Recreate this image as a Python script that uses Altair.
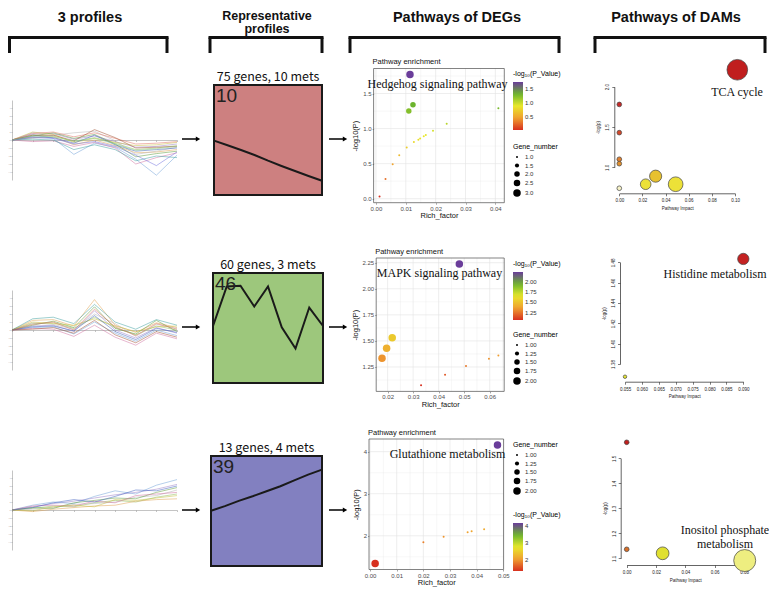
import altair as alt
import pandas as pd

# ---------------------------------------------------------------- data
HEADERS = ["3 profiles", "Representative\nprofiles", "Pathways of DEGs", "Pathways of DAMs"]

TIME = [0, 1, 2, 3, 4, 5, 6, 7, 8]

# thumbnails of all genes of each profile (expression, log ratio)
PROFILE_LINES = [
    [
        [0, 0.6, 0.5, -0.2, 0.3, -0.4, -1.2, -1.0, -0.7],
        [0, 0.9, 0.8, 0.1, 0.5, -0.2, -0.9, -0.8, -0.5],
        [0, 0.3, 0.4, -0.6, 0.0, -0.7, -1.6, -1.5, -1.2],
        [0, 0.7, 0.2, -1.8, -0.4, -0.9, -2.4, -4.4, -1.9],
        [0, 0.2, 0.6, 0.9, 1.1, -0.1, -1.8, -1.4, -0.9],
        [0, 0.5, 0.9, 0.2, 0.7, -0.5, -2.1, -1.7, -1.4],
        [0, -0.2, -0.1, -0.8, -0.3, -1.0, -3.0, -2.2, -1.6],
        [0, 1.0, 0.7, -0.3, 0.2, -0.3, -0.7, -0.6, -0.3],
        [0, 0.4, 0.3, -0.4, 0.6, -0.6, -1.4, -1.2, -1.0],
        [0, 0.8, 1.0, 0.4, 0.9, 0.2, -0.5, -0.4, -0.2],
        [0, 0.1, 0.0, -1.2, -0.6, -1.2, -2.6, -2.0, -2.2],
        [0, 0.6, 0.6, -0.1, 1.3, 0.3, -1.0, -0.9, -0.8],
        [0, 0.3, 0.2, -0.5, -0.2, -0.8, -1.9, -3.2, -1.5],
        [0, 0.5, 0.4, -0.1, 0.2, -0.5, -1.3, -1.1, -0.8],
    ],
    [
        [0, 0.8, 0.9, 0.2, 1.6, 0.3, -0.6, 0.5, 0.0],
        [0, 0.5, 0.6, -0.2, 2.4, 0.0, -1.0, 0.3, -0.4],
        [0, 1.2, 1.3, 0.5, 3.8, 0.6, -0.3, 0.9, 0.3],
        [0, 0.3, 0.4, -0.5, 1.0, -0.4, -1.4, 0.0, -0.7],
        [0, 0.9, 0.7, 0.1, 2.0, 0.8, -0.8, 0.7, 0.2],
        [0, 0.6, 1.1, 0.3, 2.9, 0.2, -0.5, 1.2, -0.2],
        [0, 0.2, 0.1, -0.8, 0.6, -0.9, -1.9, -0.4, -1.1],
        [0, 1.0, 0.8, 0.6, 1.4, 0.5, -0.2, 0.4, 0.5],
        [0, 0.4, 0.5, -0.1, 1.8, -0.2, -1.2, 0.2, -0.3],
        [0, 0.7, 1.0, 0.0, 2.6, 0.4, -0.7, 0.8, 0.1],
        [0, 1.4, 1.6, 0.8, 3.2, 1.0, 0.1, 1.3, 0.6],
        [0, 0.1, 0.3, -0.4, 1.2, -0.6, -1.6, -0.2, -0.9],
    ],
    [
        [0, 0.2, 0.5, 0.4, 0.9, 1.2, 1.0, 1.6, 2.0],
        [0, 0.4, 0.8, 1.1, 1.5, 1.9, 2.2, 2.6, 3.2],
        [0, -0.2, 0.1, 0.3, 0.5, 0.6, 1.1, 1.3, 1.4],
        [0, 0.6, 1.0, 0.8, 1.7, 2.4, 2.0, 3.1, 3.8],
        [0, 0.1, 0.3, 0.7, 0.8, 1.0, 1.6, 1.8, 2.5],
        [0, 0.3, 0.2, 0.9, 1.2, 1.5, 1.4, 2.2, 2.8],
        [0, 0.5, 0.6, 0.5, 1.1, 0.9, 1.8, 2.0, 2.2],
        [0, -0.1, 0.4, 0.6, 0.4, 1.3, 1.2, 1.5, 1.8],
        [0, 0.3, 0.9, 1.3, 1.0, 1.7, 2.5, 2.4, 3.0],
    ],
]

PROFILE_IDS = ["10", "46", "39"]
PROFILE_TITLES = ["75 genes, 10 mets", "60 genes, 3 mets", "13 genes, 4 mets"]
PROFILE_FILLS = ["#cd8080", "#9dc77c", "#8280c0"]
REP_PROFILE = [
    [49.4, 45.2, 40.9, 36.4, 31.2, 26.4, 21.8, 17.3, 13.0],
    [51.8, 87.8, 88.4, 69.5, 87.8, 50.6, 31.4, 68.6, 51.8],
    [50.2, 54.4, 59.2, 63.4, 68.0, 72.5, 77.9, 83.1, 87.6],
]

DEG_TITLE = "Pathway enrichment"
DEG_LABELS = ["Hedgehog signaling pathway", "MAPK signaling pathway", "Glutathione metabolism"]
DEG_X = [
    [0.0012, 0.0032, 0.0056, 0.0078, 0.0103, 0.0127, 0.0142, 0.0148, 0.0160, 0.0167,
     0.0191, 0.0237, 0.0410, 0.0110, 0.0124, 0.0114],
    [0.0178, 0.0196, 0.0218, 0.0331, 0.0425, 0.0507, 0.0597, 0.0634, 0.0481],
    [0.0019, 0.0200, 0.0276, 0.0366, 0.0381, 0.0428, 0.0478],
]
DEG_Y = [
    [0.03, 0.28, 0.49, 0.62, 0.73, 0.81, 0.84, 0.86, 0.89, 0.91,
     0.97, 1.07, 1.29, 1.25, 1.34, 1.77],
    [1.333, 1.429, 1.531, 1.074, 1.176, 1.260, 1.330, 1.359, 2.237],
    [1.34, 1.846, 1.977, 2.085, 2.108, 2.155, 4.16],
]
DEG_N = [
    [1, 1, 1, 1, 1, 1, 1, 1, 1, 1, 1, 1, 1, 2, 2, 3],
    [2, 2, 2, 1, 1, 1, 1, 1, 2],
    [2, 1, 1, 1, 1, 1, 2],
]
DEG_XTICKS = [[0.00, 0.01, 0.02, 0.03, 0.04], [0.02, 0.03, 0.04, 0.05, 0.06],
              [0.00, 0.01, 0.02, 0.03, 0.04, 0.05]]
DEG_YTICKS = [[0.0, 0.5, 1.0, 1.5], [1.25, 1.50, 1.75, 2.00, 2.25], [2, 3, 4]]
DEG_YFMT = [".1f", ".2f", "d"]
DEG_CTICKS = [[0.5, 1.0, 1.5], [1.25, 1.50, 1.75, 2.00], [2, 3, 4]]
DEG_CFMT = [".1f", ".2f", "d"]
DEG_NTICKS = [[1.0, 1.5, 2.0, 2.5, 3.0], [1.00, 1.25, 1.50, 1.75, 2.00], [1.00, 1.25, 1.50, 1.75, 2.00]]
DEG_NFMT = [".1f", ".2f", ".2f"]

DAM_LABELS = ["TCA cycle", "Histidine metabolism", "Inositol phosphate\nmetabolism"]
DAM_X = [
    [0, 0, 0, 0, 0, 0.0228, 0.0314, 0.0487, 0.102],
    [0.055, 0.090],
    [0, 0, 0.0245, 0.0805],
]
DAM_Y = [
    [1.78, 1.43, 1.10, 1.045, 0.74, 0.79, 0.89, 0.79, 2.21],
    [1.3675, 1.4833],
    [1.564, 1.136, 1.12, 1.091],
]
DAM_XTICKS = [[0.00, 0.02, 0.04, 0.06, 0.08, 0.10],
              [0.055, 0.060, 0.065, 0.070, 0.075, 0.080, 0.085, 0.090],
              [0.00, 0.02, 0.04, 0.06, 0.08]]
DAM_YTICKS = [[1.0, 1.5, 2.0], [1.38, 1.40, 1.42, 1.44, 1.46, 1.48], [1.1, 1.2, 1.3, 1.4, 1.5]]
DAM_XFMT = [".2f", ".3f", ".2f"]
DAM_YFMT = [".1f", ".2f", ".1f"]

# ---------------------------------------------------------------- layout
M = 8
W, H = 777 - 2 * M, 596 - 2 * M


def P(v):
    return v - M


ONE = pd.DataFrame({"k": [0]})
LINE_COLORS = ["#8fbc5a", "#9a7fc7", "#e0a050", "#6fa0d8", "#b5b5b5", "#5a9a3a", "#d070a0",
               "#c8c040", "#4060c0", "#e07060", "#40a0a0", "#a05030", "#7070e0", "#90d090"]
SANS = "Liberation Sans"
SERIF = "Liberation Serif"
CJK = "Noto Sans CJK SC"

ROW_ARROW_Y = [139, 327, 510]
C1 = [dict(x0=12, x1=177, top=100, bot=180), dict(x0=12, x1=177, top=290, bot=370),
      dict(x0=12, x1=177, top=470, bot=550)]
C2 = [dict(x0=214, x1=322, top=85, bot=195), dict(x0=213, x1=323, top=273, bot=383),
      dict(x0=211, x1=322, top=456, bot=566)]
C3 = [dict(x0=373.6, x1=504.3, top=68.5, bot=202.7, title=64, lab=(437.5, 88.3),
           legy=(70, 143)),
      dict(x0=376.2, x1=504.2, top=258, bot=391.4, title=254, lab=(439.5, 277.3),
           legy=(260, 331)),
      dict(x0=369.0, x1=503.6, top=439.0, bot=569.5, title=434.5, lab=(447.5, 458),
           legy=(511, 441))]
C4 = [dict(ax=614.3, ay=193.3, x0=619.3, x1=735.0, y0=167.3, y1=86.7, lab=(737, 96)),
      dict(ax=620.0, ay=381.7, x0=625.0, x1=743.3, y0=364.0, y1=262.3, lab=(715, 278.3)),
      dict(ax=620.7, ay=565.0, x0=626.7, x1=744.0, y0=558.3, y1=458.3, lab=(725, 534))]
DAM_COLOR = [
    ([0.74, 0.75, 0.9, 1.1, 1.45, 1.8, 2.21],
     ["#f7f3c8", "#eeee3c", "#e6be2e", "#e08030", "#d2452a", "#c42828", "#c01e1e"]),
    ([1.3675, 1.4833], ["#e8e830", "#c42222"]),
    ([1.091, 1.12, 1.136, 1.564], ["#eeee80", "#e0e030", "#d8702a", "#c0201e"]),
]
DAM_SIZE = [([0, 0.102], [22, 428]), ([0.055, 0.090], [12, 128]), ([0, 0.0805], [22, 484])]
DEG_COLORS = ["#d7301f", "#f0a030", "#e8e82a", "#6cb52d", "#6a3d9a"]

layers = []

# ---------------------------------------------------------------- headers & brackets
HEAD_POS = [(90, [22], 14.5), (267, [19.6, 33.4], 12.5), (457, [22], 14.5), (676, [22], 14.5)]
BRACKETS = [(9.5, 167), (210, 322), (350, 559), (595, 765)]
BRACKET_Y = 37.5
for txt, (cx, bys, fs) in zip(HEADERS, HEAD_POS):
    for part, by in zip(txt.split("\n"), bys):
        layers.append(alt.Chart(pd.DataFrame({"t": [part]})).mark_text(
            font=SANS, fontWeight="bold", fontSize=fs, align="center", baseline="alphabetic",
            color="#111").encode(x=alt.value(P(cx)), y=alt.value(P(by)), text="t:N"))
for x0, x1 in BRACKETS:
    b = alt.Chart(ONE)
    layers.append(b.mark_rule(color="#111", strokeWidth=3, strokeCap="square").encode(
        x=alt.value(P(x0)), x2=alt.value(P(x1)), y=alt.value(P(BRACKET_Y))))
    for xx in (x0, x1):
        layers.append(b.mark_rule(color="#111", strokeWidth=3).encode(
            x=alt.value(P(xx)), y=alt.value(P(BRACKET_Y)), y2=alt.value(P(53))))

# arrows
for y in ROW_ARROW_Y:
    for x0, x1 in ((182, 201), (329, 348)):
        b = alt.Chart(ONE)
        layers.append(b.mark_rule(color="black", strokeWidth=1.5).encode(
            x=alt.value(P(x0)), x2=alt.value(P(x1 - 4)), y=alt.value(P(y))))
        layers.append(b.mark_point(shape="triangle-right", filled=True, color="black",
                                   opacity=1, size=26).encode(
            x=alt.value(P(x1 - 3)), y=alt.value(P(y))))

# ---------------------------------------------------------------- column 1
for r in range(3):
    g = C1[r]
    rows = []
    for li, vals in enumerate(PROFILE_LINES[r]):
        for t, v in zip(TIME, vals):
            rows.append({"t": t, "v": v, "g": "g%02d" % li})
    df = pd.DataFrame(rows)
    xs = alt.Scale(domain=[0, 8], range=[P(g["x0"]), P(g["x1"])], nice=False, zero=False)
    ys = alt.Scale(domain=[-5, 5], range=[P(g["bot"]), P(g["top"])], nice=False, zero=False)
    yzero = (g["top"] + g["bot"]) / 2
    lines = alt.Chart(df).mark_line(strokeWidth=0.6, opacity=0.85).encode(
        x=alt.X("t:Q", scale=xs, axis=alt.Axis(
            orient="bottom", offset=P(yzero) - H, values=TIME, labels=False, title=None,
            grid=False, domainColor="#888", domainWidth=0.5, tickColor="#888",
            tickSize=1.5, tickWidth=0.5)),
        y=alt.Y("v:Q", scale=ys, axis=alt.Axis(
            orient="left", offset=-P(g["x0"]), values=[-4, -3, -2, -1, 0, 1, 2, 3, 4],
            labelFontSize=2.5, labelColor="#999", labelPadding=0.5, title=None, grid=False,
            domainColor="#888", domainWidth=0.5, tickColor="#888", tickSize=1,
            tickWidth=0.5, labelOverlap=False, labelFlush=False)),
        color=alt.Color("g:N", scale=alt.Scale(range=LINE_COLORS), legend=None),
    )
    layers.append(lines)

# ---------------------------------------------------------------- column 2
for r in range(3):
    g = C2[r]
    df = pd.DataFrame({"t": TIME, "v": REP_PROFILE[r]})
    xs = alt.Scale(domain=[0, 8], range=[P(g["x0"]), P(g["x1"])], nice=False, zero=False)
    ys = alt.Scale(domain=[0, 100], range=[P(g["bot"]), P(g["top"])], nice=False, zero=False)
    box = alt.Chart(ONE).mark_rect(fill=PROFILE_FILLS[r], stroke="#1a1a1a", strokeWidth=2).encode(
        x=alt.X(datum=0, type="quantitative", scale=xs, axis=None),
        x2=alt.X2(datum=8),
        y=alt.Y(datum=0, type="quantitative", scale=ys, axis=None),
        y2=alt.Y2(datum=100))
    line = alt.Chart(df).mark_line(color="#1a1a1a", strokeWidth=2).encode(
        x=alt.X("t:Q", scale=xs, axis=None), y=alt.Y("v:Q", scale=ys, axis=None))
    num = alt.Chart(pd.DataFrame({"t": [PROFILE_IDS[r]]})).mark_text(
        font=SANS, fontSize=19, align="left", baseline="top", color="#222").encode(
        x=alt.value(P(g["x0"] + 2)), y=alt.value(P(g["top"] + 2)), text="t:N")
    ttl = alt.Chart(pd.DataFrame({"t": [PROFILE_TITLES[r]]})).mark_text(
        font=CJK, fontSize=12.5, align="center", baseline="alphabetic", color="#111").encode(
        x=alt.value(P((g["x0"] + g["x1"]) / 2)), y=alt.value(P(g["top"] - 4)), text="t:N")
    layers += [box, line, num, ttl]


# ---------------------------------------------------------------- column 3
def expand(vals, f=0.05):
    lo, hi = min(vals), max(vals)
    d = (hi - lo) * f
    return [lo - d, hi + d]


for r in range(3):
    g = C3[r]
    df = pd.DataFrame({"x": DEG_X[r], "y": DEG_Y[r], "n": DEG_N[r]})
    xd, yd = expand(DEG_X[r]), expand(DEG_Y[r])
    xs = alt.Scale(domain=xd, range=[P(g["x0"]), P(g["x1"])], nice=False, zero=False)
    ys = alt.Scale(domain=yd, range=[P(g["bot"]), P(g["top"])], nice=False, zero=False)
    # grid (major + minor)
    xt, yt = DEG_XTICKS[r], DEG_YTICKS[r]
    xminor = [(a + b) / 2 for a, b in zip(xt[:-1], xt[1:])]
    yminor = [(a + b) / 2 for a, b in zip(yt[:-1], yt[1:])]
    xminor = [v for v in xminor + [xt[0] - (xt[1] - xt[0]) / 2, xt[-1] + (xt[1] - xt[0]) / 2]
              if xd[0] < v < xd[1]]
    yminor = [v for v in yminor + [yt[0] - (yt[1] - yt[0]) / 2, yt[-1] + (yt[1] - yt[0]) / 2]
              if yd[0] < v < yd[1]]
    gx = pd.DataFrame({"v": xt + xminor, "w": [0.6] * len(xt) + [0.3] * len(xminor),
                       "lo": yd[0], "hi": yd[1]})
    gy = pd.DataFrame({"v": yt + yminor, "w": [0.6] * len(yt) + [0.3] * len(yminor),
                       "lo": xd[0], "hi": xd[1]})
    gridx = alt.Chart(gx).mark_rule(color="#e3e3e3").encode(
        x=alt.X("v:Q", scale=xs, axis=None), y=alt.Y("lo:Q", scale=ys, axis=None), y2="hi:Q",
        strokeWidth=alt.StrokeWidth("w:Q", scale=None))
    gridy = alt.Chart(gy).mark_rule(color="#e3e3e3").encode(
        y=alt.Y("v:Q", scale=ys, axis=None), x=alt.X("lo:Q", scale=xs, axis=None), x2="hi:Q",
        strokeWidth=alt.StrokeWidth("w:Q", scale=None))
    frame = alt.Chart(ONE).mark_rect(fill=None, stroke="#4d4d4d", strokeWidth=0.7).encode(
        x=alt.X(datum=xd[0], type="quantitative", scale=xs, axis=None), x2=alt.X2(datum=xd[1]),
        y=alt.Y(datum=yd[0], type="quantitative", scale=ys, axis=None), y2=alt.Y2(datum=yd[1]))
    leg_c_y, leg_n_y = g["legy"]
    lo_, hi_ = min(DEG_Y[r]), max(DEG_Y[r])
    pts = alt.Chart(df).mark_circle(opacity=1).encode(
        x=alt.X("x:Q", scale=xs, axis=alt.Axis(
            orient="bottom", offset=P(g["bot"]) - H, values=xt, format=".2f", title="Rich_factor",
            labelFont=SANS, labelFontSize=6, labelColor="#4d4d4d", labelPadding=1,
            tickSize=1.5, tickColor="#4d4d4d", tickWidth=0.5, domain=False, grid=False,
            titleFont=SANS, titleFontSize=7.5, titleFontWeight="normal", titleColor="#111",
            titlePadding=0.5, labelOverlap=False, labelFlush=False)),
        y=alt.Y("y:Q", scale=ys, axis=alt.Axis(
            orient="left", offset=-P(g["x0"]), values=yt, format=DEG_YFMT[r], title="-log10(P)",
            labelFont=SANS, labelFontSize=6, labelColor="#4d4d4d", labelPadding=1,
            tickSize=1.5, tickColor="#4d4d4d", tickWidth=0.5, domain=False, grid=False,
            titleFont=SANS, titleFontSize=7.5, titleFontWeight="normal", titleColor="#111",
            titlePadding=3, labelOverlap=False, labelFlush=False)),
        color=alt.Color("y:Q", scale=alt.Scale(
            domain=[lo_ + (hi_ - lo_) * k / 4 for k in range(5)],
            range=DEG_COLORS, interpolate="rgb"),
            legend=alt.Legend(orient="none", legendX=P(513), legendY=P(leg_c_y),
                              title="-log\u2081\u2080(P_Value)", titleFont=SANS, titleFontSize=7,
                              titleFontWeight="normal", labelFont=SANS, labelFontSize=6,
                              labelColor="#333", gradientLength=48, gradientThickness=10,
                              gradientStrokeWidth=0, values=DEG_CTICKS[r], format=DEG_CFMT[r],
                              direction="vertical", titlePadding=5, labelOverlap=False)),
        size=alt.Size("n:Q", scale=alt.Scale(domain=[1, max(DEG_NTICKS[r])], range=[4, 56],
                                             zero=False),
                      legend=alt.Legend(orient="none", legendX=P(513), legendY=P(leg_n_y),
                                        title="Gene_number", titleFont=SANS, titleFontSize=7,
                                        titleFontWeight="normal", labelFont=SANS,
                                        labelFontSize=6, labelColor="#333",
                                        values=DEG_NTICKS[r], format=DEG_NFMT[r],
                                        symbolFillColor="black", symbolStrokeWidth=0,
                                        symbolType="circle", symbolOpacity=1, rowPadding=2.5,
                                        titlePadding=4, labelOverlap=False)),
    )
    ttl = alt.Chart(pd.DataFrame({"t": [DEG_TITLE]})).mark_text(
        font=SANS, fontSize=7.5, align="left", baseline="alphabetic", color="#111").encode(
        x=alt.value(P(g["x0"] - 1)), y=alt.value(P(g["title"])), text="t:N")
    lab = alt.Chart(pd.DataFrame({"t": [DEG_LABELS[r]]})).mark_text(
        font=SERIF, fontSize=12, align="center", baseline="alphabetic", color="#111").encode(
        x=alt.value(P(g["lab"][0])), y=alt.value(P(g["lab"][1])), text="t:N")
    layers += [gridx, gridy, frame, pts, ttl, lab]

# ---------------------------------------------------------------- column 4
for r in range(3):
    g = C4[r]
    df = pd.DataFrame({"x": DAM_X[r], "y": DAM_Y[r]})
    xt, yt = DAM_XTICKS[r], DAM_YTICKS[r]
    xs = alt.Scale(domain=[xt[0], xt[-1]], range=[P(g["x0"]), P(g["x1"])], nice=False, zero=False)
    ys = alt.Scale(domain=[yt[0], yt[-1]], range=[P(g["y0"]), P(g["y1"])], nice=False, zero=False)
    cd, cr = DAM_COLOR[r]
    sd, sr = DAM_SIZE[r]
    pts = alt.Chart(df).mark_circle(opacity=1, stroke="#444", strokeWidth=0.7).encode(
        x=alt.X("x:Q", scale=xs, axis=alt.Axis(
            orient="bottom", offset=P(g["ay"]) - H, values=xt, format=DAM_XFMT[r],
            title="Pathway Impact", labelFont=SANS, labelFontSize=4.5, labelColor="#222",
            labelPadding=2, tickSize=2.5, tickColor="#222", tickWidth=0.6, domainColor="#222",
            domainWidth=0.7, grid=False, titleFont=SANS, titleFontSize=4.5,
            titleFontWeight="normal", titleColor="#222", titlePadding=3,
            labelOverlap=False, labelFlush=False)),
        y=alt.Y("y:Q", scale=ys, axis=alt.Axis(
            orient="left", offset=-P(g["ax"]), values=yt, format=DAM_YFMT[r], title="-log(p)",
            labelFont=SANS, labelFontSize=4.5, labelColor="#222", labelPadding=2,
            labelAngle=-90, labelAlign="center", labelBaseline="bottom",
            tickSize=2.5, tickColor="#222", tickWidth=0.6, domainColor="#222",
            domainWidth=0.7, grid=False, titleFont=SANS, titleFontSize=4.5,
            titleFontWeight="normal", titleColor="#222", titlePadding=4,
            labelOverlap=False, labelFlush=False)),
        color=alt.Color("y:Q", scale=alt.Scale(domain=cd, range=cr, interpolate="rgb"),
                        legend=None),
        size=alt.Size("x:Q", scale=alt.Scale(domain=sd, range=sr, zero=False), legend=None),
    )
    lab = alt.Chart(pd.DataFrame({"t": [DAM_LABELS[r]]})).mark_text(
        font=SERIF, fontSize=12, align="center", baseline="alphabetic", lineBreak="\n",
        lineHeight=13.5, color="#111").encode(
        x=alt.value(P(g["lab"][0])), y=alt.value(P(g["lab"][1])), text="t:N")
    layers += [pts, lab]

chart = alt.layer(*layers).resolve_scale(
    x="independent", y="independent", color="independent", size="independent",
    strokeWidth="independent"
).properties(
    width=W, height=H, padding=0, autosize=alt.AutoSizeParams(type="none"),
    background="white"
).configure_view(stroke=None)

chart.save("out.html", embed_options={"renderer": "svg", "actions": False})
